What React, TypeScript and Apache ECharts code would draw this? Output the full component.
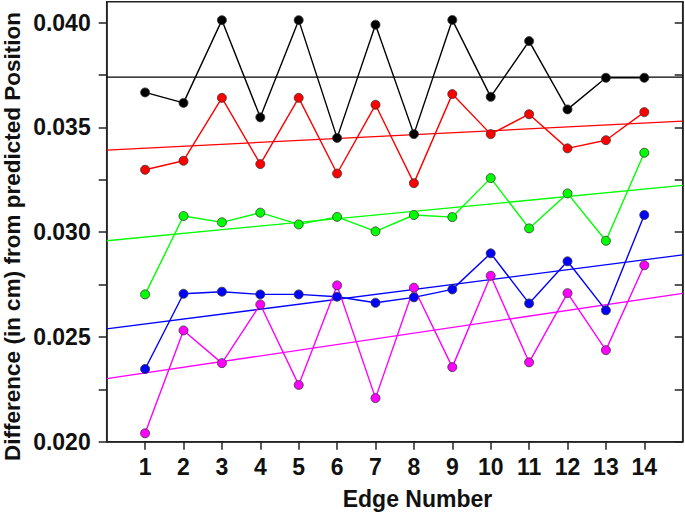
import React, { useEffect, useRef } from "react";
import * as echarts from "echarts";

const edges = [1, 2, 3, 4, 5, 6, 7, 8, 9, 10, 11, 12, 13, 14];
const yLabelValues = [0.02, 0.025, 0.03, 0.035, 0.04];
const yTickValues = [0.02, 0.0225, 0.025, 0.0275, 0.03, 0.0325, 0.035, 0.0375, 0.04];

const black = [0.03667, 0.03617, 0.04012, 0.03548, 0.04012, 0.0345, 0.0399, 0.03468, 0.04013, 0.03646, 0.03912, 0.03586, 0.03737, 0.03737];
const red = [0.03298, 0.03341, 0.03641, 0.03325, 0.03641, 0.0328, 0.03608, 0.03234, 0.03659, 0.03468, 0.03563, 0.034, 0.03439, 0.03573];
const green = [0.02703, 0.03077, 0.03047, 0.03093, 0.03037, 0.03073, 0.03004, 0.03082, 0.03072, 0.03258, 0.03018, 0.03185, 0.02959, 0.03379];
const blue = [0.02347, 0.02706, 0.02716, 0.02703, 0.02703, 0.02692, 0.02663, 0.02689, 0.02727, 0.02899, 0.0266, 0.02861, 0.02627, 0.03082];
const magenta = [0.0204, 0.02531, 0.02375, 0.02655, 0.02271, 0.02746, 0.02208, 0.02735, 0.02356, 0.02792, 0.02379, 0.02709, 0.02437, 0.02842];

// linear fit lines: values at x = 0 and x = 15
const fitX = [0, 15];
const blackFit = [0.0374, 0.0374];
const redFit = [0.03392, 0.0353];
const greenFit = [0.02959, 0.03223];
const blueFit = [0.02538, 0.02892];
const magentaFit = [0.02301, 0.02708];

const FONT = "'Liberation Sans', Arial, sans-serif";

export default function App() {
  const ref = useRef<HTMLDivElement>(null);
  useEffect(() => {
    if (!ref.current) return;
    const chart = echarts.init(ref.current, null, { renderer: "svg" });
    const groups = [
      { name: "black", color: "#000000", data: black, fit: blackFit },
      { name: "red", color: "#ff0000", data: red, fit: redFit },
      { name: "green", color: "#00ff00", data: green, fit: greenFit },
      { name: "blue", color: "#0000ff", data: blue, fit: blueFit },
      { name: "magenta", color: "#ff00ff", data: magenta, fit: magentaFit },
    ];
    const fitSeries = groups.map((g) => ({
      type: "line",
      name: g.name + " fit",
      data: fitX.map((x, i) => [x, g.fit[i]]),
      showSymbol: false,
      symbol: "none",
      lineStyle: { color: g.color, width: 1.3 },
      z: 2,
      silent: true,
    }));
    const dataSeries = groups.map((g) => ({
      type: "line",
      name: g.name,
      data: edges.map((x, i) => [x, g.data[i]]),
      symbol: "circle",
      symbolSize: 9,
      itemStyle: { color: g.color, borderColor: "#333", borderWidth: 0.8 },
      lineStyle: { color: g.color, width: 1.4 },
      z: 3,
    }));
    const axisLine = { show: true, lineStyle: { color: "#222", width: 1.5 } };
    chart.setOption({
      animation: false,
      backgroundColor: "#ffffff",
      grid: {
        left: 106.7,
        right: 2.3,
        top: 1.7,
        bottom: 71.3,
        show: true,
        borderColor: "#222",
        borderWidth: 1.5,
        backgroundColor: "transparent",
      },
      xAxis: {
        type: "value",
        min: 0,
        max: 15,
        interval: 1,
        splitLine: { show: false },
        axisLine,
        axisTick: {
          show: true,
          inside: false,
          length: 8,
          customValues: edges,
          lineStyle: { color: "#222", width: 1.5 },
        },
        axisLabel: {
          customValues: edges,
          margin: 14,
          fontSize: 23,
          fontWeight: "bold",
          fontFamily: FONT,
          color: "#111",
        },
      },
      yAxis: [
        {
          type: "value",
          min: 0.02,
          max: 0.041,
          interval: 0.005,
          splitLine: { show: false },
          axisLine,
          axisTick: {
            show: true,
            length: 8,
            customValues: yTickValues,
            lineStyle: { color: "#222", width: 1.5 },
          },
          axisLabel: {
            customValues: yLabelValues,
            formatter: (v: number) => v.toFixed(3),
            margin: 16,
            fontSize: 23,
            fontWeight: "bold",
            fontFamily: FONT,
            color: "#111",
          },
        },
        {
          type: "value",
          position: "right",
          min: 0.02,
          max: 0.041,
          interval: 0.005,
          splitLine: { show: false },
          axisLine,
          axisTick: {
            show: true,
            inside: true,
            length: 8,
            customValues: yTickValues,
            lineStyle: { color: "#222", width: 1.5 },
          },
          axisLabel: { show: false },
        },
      ],
      graphic: [
        {
          type: "text",
          x: 417.5,
          y: 499,
          style: {
            text: "Edge Number",
            fontSize: 23,
            fontWeight: "bold",
            fontFamily: FONT,
            fill: "#111",
            align: "center",
            verticalAlign: "middle",
          },
        },
        {
          type: "text",
          x: 12.5,
          y: 236.5,
          rotation: Math.PI / 2,
          style: {
            text: "Difference (in cm) from predicted Position",
            fontSize: 22.5,
            fontWeight: "bold",
            fontFamily: FONT,
            fill: "#111",
            align: "center",
            verticalAlign: "middle",
          },
        },
      ],
      series: [...fitSeries, ...dataSeries],
    });
    return () => chart.dispose();
  }, []);
  return (
    <div
      ref={ref}
      style={{ position: "fixed", left: 0, top: 0, width: 685, height: 513, background: "#fff" }}
    />
  );
}
